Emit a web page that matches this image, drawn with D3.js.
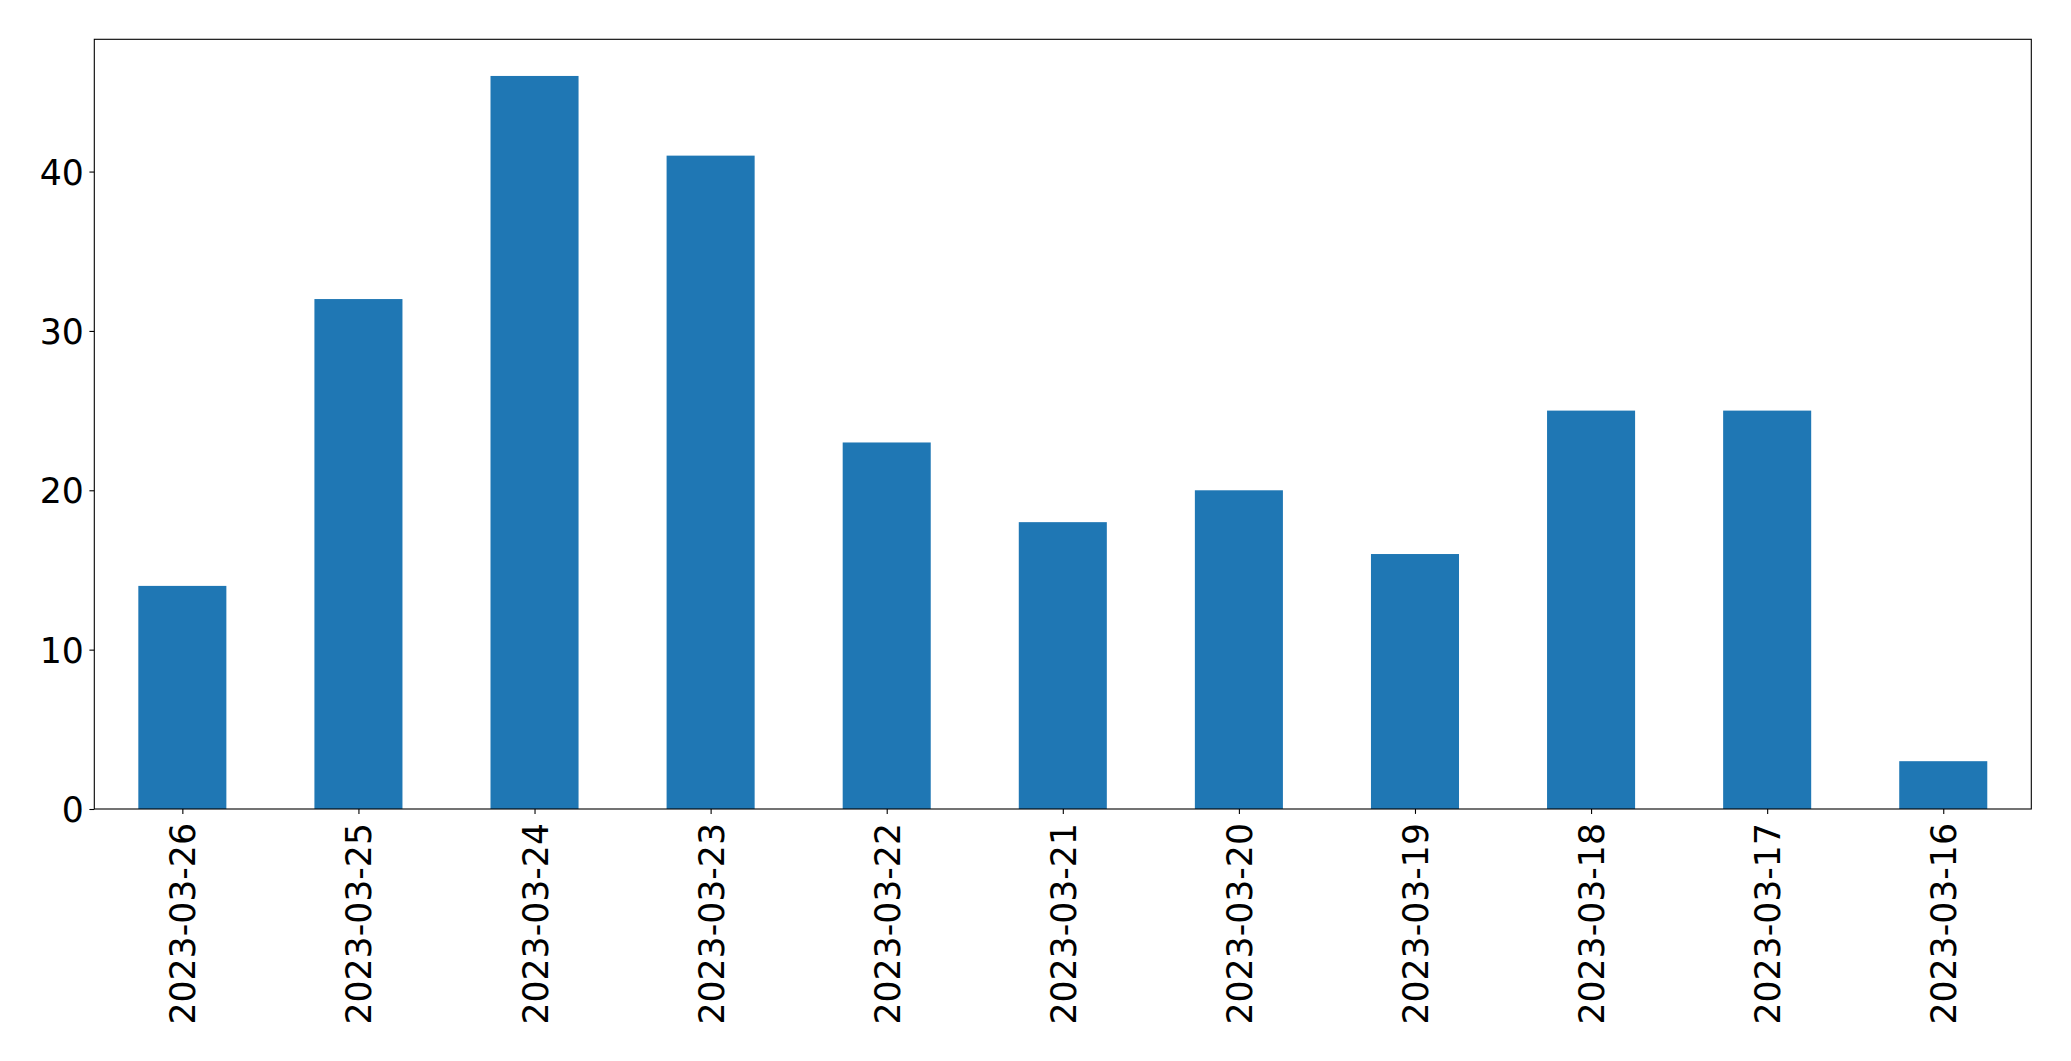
<!DOCTYPE html>
<html><head><meta charset="utf-8">
<script src="https://cdnjs.cloudflare.com/ajax/libs/d3/7.8.5/d3.min.js"></script>
<style>body{margin:0;background:#fff;} svg{display:block;}</style>
</head><body>
<script>
const categories = ["2023-03-26","2023-03-25","2023-03-24","2023-03-23","2023-03-22","2023-03-21","2023-03-20","2023-03-19","2023-03-18","2023-03-17","2023-03-16"];
const values = [14,32,46,41,23,18,20,16,25,25,3];
const yTicks = [0,10,20,30,40];

const W = 2071, H = 1061;
const L = 94.3, T = 39.3, R = 2031.3, B = 809;
const svg = d3.select("body").append("svg").attr("width", W).attr("height", H);

const x = d3.scaleLinear().domain([-0.5, categories.length - 0.5]).range([L, R]);
const y = d3.scaleLinear().domain([0, d3.max(values) * 1.05]).range([B, T]);

svg.append("g").selectAll("rect").data(values).join("rect")
  .attr("x", (d,i) => x(i - 0.25)).attr("width", (d,i) => x(i + 0.25) - x(i - 0.25))
  .attr("y", d => y(d)).attr("height", d => y(0) - y(d))
  .attr("fill", "#1f77b4");

const font = "'DejaVu Sans', sans-serif";
const fs = 34.7;

const yAxis = svg.append("g").attr("transform", `translate(${L},0)`)
  .call(d3.axisLeft(y).tickValues(yTicks).tickFormat(d3.format("d")).tickSize(4.9).tickPadding(5.5));
const xAxis = svg.append("g").attr("transform", `translate(0,${B})`)
  .call(d3.axisBottom(x).tickValues(d3.range(categories.length)).tickFormat(i => categories[i]).tickSize(4.9).tickPadding(0));
[yAxis, xAxis].forEach(g => {
  g.select(".domain").remove();
  g.selectAll("line").attr("stroke", "#000").attr("stroke-width", 1.1);
  g.selectAll("text").attr("fill", "#000").style("font-family", font).style("font-size", fs + "px");
});
yAxis.selectAll("text").attr("dy", "0.36em");
xAxis.selectAll("text")
  .attr("transform", "rotate(-90)")
  .attr("x", -14).attr("y", 0).attr("dy", "0.36em")
  .attr("text-anchor", "end");

svg.append("rect").attr("x", L).attr("y", T).attr("width", R - L).attr("height", B - T)
  .attr("fill", "none").attr("stroke", "#000").attr("stroke-width", 1.1);
</script>
</body></html>
